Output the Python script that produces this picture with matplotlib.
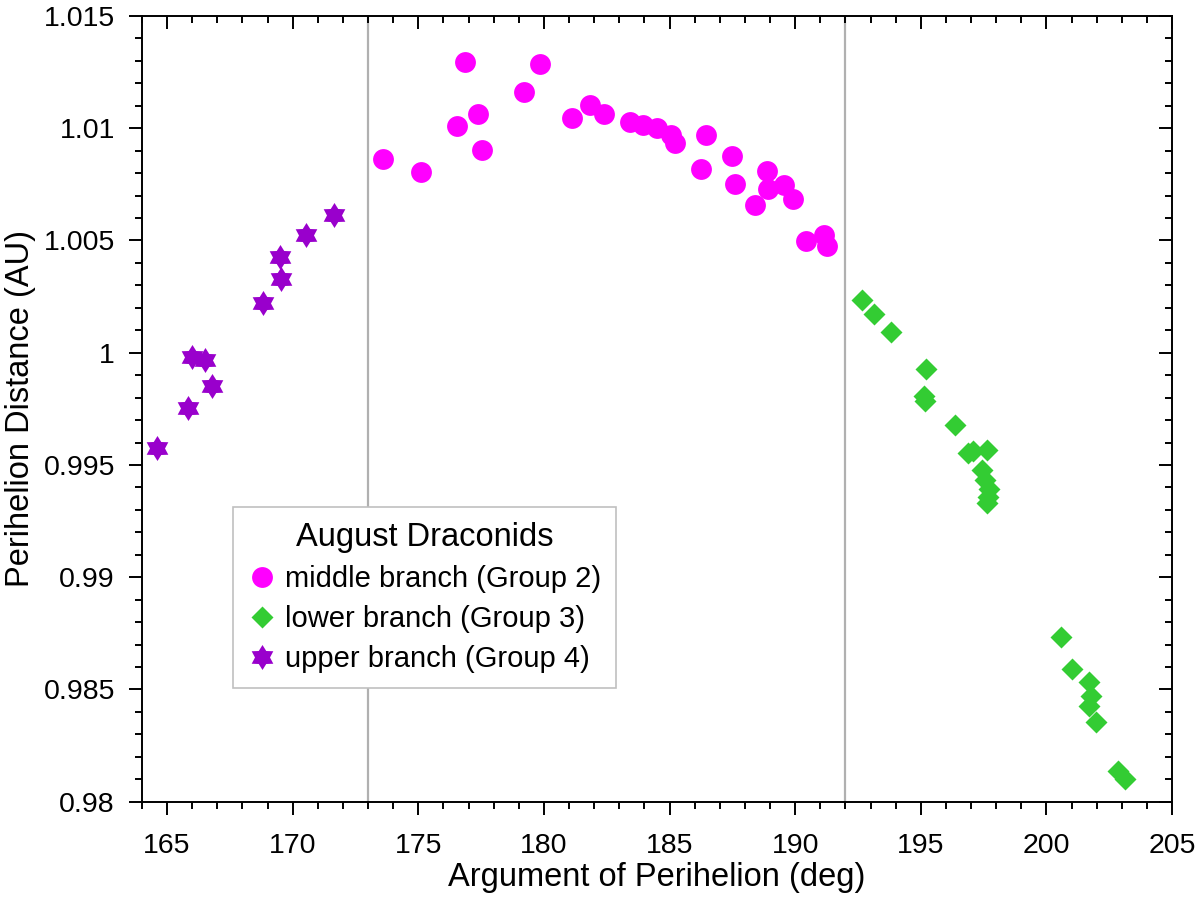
import numpy as np
import matplotlib
matplotlib.use('Agg')
import matplotlib.pyplot as plt
from matplotlib.path import Path
from matplotlib.ticker import MultipleLocator, FuncFormatter

plt.rcParams['font.family'] = ['Liberation Sans', 'DejaVu Sans']

# middle branch (Group 2)
mid_w = [173.61, 175.11, 176.86, 176.53, 177.36, 177.54, 179.19, 179.86, 181.13, 181.83,
         182.40, 183.43, 183.96, 184.49, 185.05, 185.22, 186.45, 186.25, 187.48, 187.62,
         188.88, 188.40, 188.93, 189.56, 189.93, 190.43, 191.16, 191.26]
mid_q = [1.00863, 1.00803, 1.01295, 1.01008, 1.01065, 1.00904, 1.01163, 1.01284, 1.01047, 1.01103,
         1.01063, 1.01026, 1.01016, 1.01002, 1.00970, 1.00934, 1.00970, 1.00820, 1.00877, 1.00751,
         1.00811, 1.00656, 1.00729, 1.00745, 1.00686, 1.00497, 1.00525, 1.00476]

# lower branch (Group 3)
low_w = [192.67, 193.15, 193.80, 195.20, 195.13, 195.17, 196.36, 196.86, 197.09, 197.63,
         197.43, 197.56, 197.73, 197.69, 197.63,
         200.58, 201.01, 201.71, 201.77, 201.71, 201.98, 202.83, 203.13]
low_q = [1.00233, 1.00173, 1.00094, 0.99927, 0.99805, 0.99787, 0.99679, 0.99553, 0.99560, 0.99567,
         0.99478, 0.99434, 0.99392, 0.99359, 0.99330,
         0.98733, 0.98591, 0.98535, 0.98471, 0.98428, 0.98357, 0.98138, 0.98100]

# upper branch (Group 4)
up_w = [171.66, 170.52, 169.49, 169.53, 168.83, 165.98, 166.51, 166.80, 165.84, 164.58]
up_q = [1.00615, 1.00525, 1.00426, 1.00328, 1.00221, 0.99983, 0.99968, 0.99853, 0.99753, 0.99575]

# hexagram marker
star6 = Path.unit_regular_star(6, 0.6)

fig = plt.figure(figsize=(12, 9.02), dpi=100)
ax = fig.add_axes([0.1183, 0.1112, 0.8584, 0.8711])

ax.axvline(173, color='#b0b0b0', lw=1.6, zorder=1)
ax.axvline(192, color='#b0b0b0', lw=1.6, zorder=1)

ax.plot(mid_w, mid_q, 'o', color='#ff00ff', ms=15, mec='none', label='middle branch (Group 2)', zorder=3)
ax.plot(low_w, low_q, 'D', color='#33cc33', ms=11.5, mec='none', label='lower branch (Group 3)', zorder=3)
ax.plot(up_w, up_q, ls='none', marker=star6, color='#9900cc', ms=18, mec='none', label='upper branch (Group 4)', zorder=3)

ax.set_xlim(164, 205)
ax.set_ylim(0.98, 1.015)
ax.xaxis.set_major_locator(MultipleLocator(5))
ax.xaxis.set_minor_locator(MultipleLocator(1))
ax.yaxis.set_major_locator(MultipleLocator(0.005))
ax.yaxis.set_minor_locator(MultipleLocator(0.001))
ax.yaxis.set_major_formatter(FuncFormatter(lambda v, p: '%g' % round(v, 4)))

for s in ax.spines.values():
    s.set_linewidth(1.4)
ax.tick_params(which='both', top=True, right=True, width=1.4, labelsize=20.5)
ax.tick_params(which='major', length=9.5)
ax.tick_params(which='minor', length=5)
ax.tick_params(axis='x', which='both', direction='out', pad=13)
ax.tick_params(axis='y', which='both', direction='out', pad=10)
# top / right ticks point inward
for t in ax.xaxis.get_major_ticks() + ax.xaxis.get_minor_ticks():
    t.tick2line.set_marker(matplotlib.lines.TICKDOWN)
for t in ax.yaxis.get_major_ticks() + ax.yaxis.get_minor_ticks():
    t.tick2line.set_marker(matplotlib.lines.TICKLEFT)

ax.set_xlabel('Argument of Perihelion (deg)', fontsize=23.5, labelpad=2)
ax.set_ylabel('Perihelion Distance (AU)', fontsize=23.5, labelpad=5)

leg = ax.legend(title='August Draconids', loc='upper left', bbox_to_anchor=(0.0883, 0.375),
                borderaxespad=0, fontsize=21, title_fontsize=23.5, fancybox=False,
                framealpha=1, edgecolor='#c0c0c0', handletextpad=0.3, borderpad=0.5,
                handlelength=1.0, labelspacing=0.42)
leg.get_frame().set_linewidth(1.2)
leg.set_zorder(5)

fig.savefig('out.png', dpi=100)
